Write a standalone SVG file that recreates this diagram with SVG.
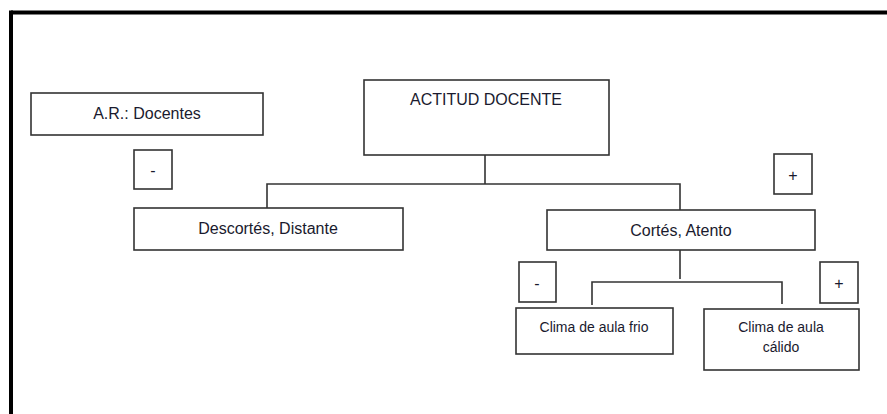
<svg xmlns="http://www.w3.org/2000/svg" width="887" height="414" viewBox="0 0 887 414">
<style>
.box{fill:#fff;stroke:#333;stroke-width:1.6}
.t{font-family:"Liberation Sans",Arial,sans-serif;fill:#1a1a2e;text-anchor:middle;dominant-baseline:central}
.l{font-size:16px}
.s{font-size:14px}
.c{fill:none;stroke:#333;stroke-width:1.6}
</style>
<rect width="887" height="414" fill="#fff"/>
<g id="frame">
<line x1="11" y1="12.5" x2="887" y2="12.5" stroke="#000" stroke-width="4"/>
<line x1="11" y1="10.5" x2="11" y2="414" stroke="#000" stroke-width="4"/>
</g>
<g id="connectors">
<path class="c" d="M485 155V184M267 208V184H680V210"/>
<path class="c" d="M680 250V279M592 305V282H782V304"/>
</g>
<g id="ar-docentes"><rect class="box" x="31" y="93" width="232" height="42"/><text class="t l" x="147" y="113">A.R.: Docentes</text></g>
<g id="minus-1"><rect class="box" x="134" y="150" width="38" height="39"/><text class="t l" x="153" y="170">-</text></g>
<g id="actitud-docente"><rect class="box" x="364" y="80" width="245" height="75"/><text class="t l" x="486" y="99">ACTITUD DOCENTE</text></g>
<g id="plus-1"><rect class="box" x="774" y="154" width="38" height="40"/><text class="t l" x="793" y="175">+</text></g>
<g id="descortes"><rect class="box" x="134" y="208" width="269" height="42"/><text class="t l" x="268" y="228">Descortés, Distante</text></g>
<g id="cortes"><rect class="box" x="547" y="210" width="268" height="40"/><text class="t l" x="681" y="230">Cortés, Atento</text></g>
<g id="minus-2"><rect class="box" x="519" y="262" width="37" height="40"/><text class="t l" x="537" y="283">-</text></g>
<g id="plus-2"><rect class="box" x="820" y="262" width="38" height="41"/><text class="t l" x="839" y="283">+</text></g>
<g id="clima-frio"><rect class="box" x="516" y="308" width="157" height="46"/><text class="t s" x="594" y="327">Clima de aula frio</text></g>
<g id="clima-calido"><rect class="box" x="704" y="309" width="155" height="61"/><text class="t s" x="781" y="327">Clima de aula</text><text class="t s" x="781" y="347">cálido</text></g>
</svg>
